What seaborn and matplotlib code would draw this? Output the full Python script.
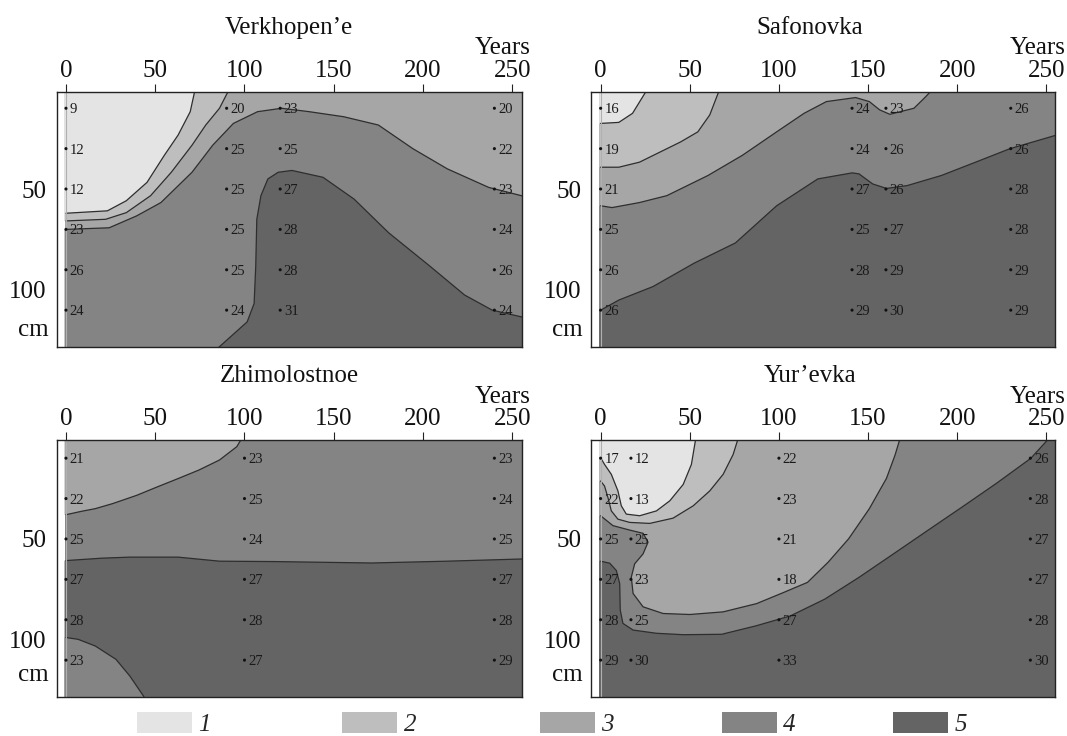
import matplotlib
matplotlib.use("Agg")
import matplotlib.pyplot as plt
import seaborn as sns
import pandas as pd
from matplotlib.patches import Patch

# ---------------- data ----------------
depths = [10, 30, 50, 70, 90, 110]

verk_years = [0, 90, 120, 240]
verk_col_0 = [9, 12, 12, 23, 26, 24]
verk_col_90 = [20, 25, 25, 25, 25, 24]
verk_col_120 = [23, 25, 27, 28, 28, 31]
verk_col_240 = [20, 22, 23, 24, 26, 24]

safo_years = [0, 141, 160, 230]
safo_col_0 = [16, 19, 21, 25, 26, 26]
safo_col_141 = [24, 24, 27, 25, 28, 29]
safo_col_160 = [23, 26, 26, 27, 29, 30]
safo_col_230 = [26, 26, 28, 28, 29, 29]

zhim_years = [0, 100, 240]
zhim_col_0 = [21, 22, 25, 27, 28, 23]
zhim_col_100 = [23, 25, 24, 27, 28, 27]
zhim_col_240 = [23, 24, 25, 27, 28, 29]

yure_years = [0, 17, 100, 241]
yure_col_0 = [17, 22, 25, 27, 28, 29]
yure_col_17 = [12, 13, 25, 23, 25, 30]
yure_col_100 = [22, 23, 21, 18, 27, 33]
yure_col_241 = [26, 28, 27, 27, 28, 30]

class_labels = ['1', '2', '3', '4', '5']

# class boundary lines (years, cm)
verk_b12_x = [72.5, 69.6, 62.8, 55.1, 45.4, 33.8, 23.2, 0]
verk_b12_y = [0, 11.7, 23.3, 33.3, 46.7, 55.8, 60.8, 62]
verk_b23_x = [91.8, 86, 78.3, 70.6, 59, 47.4, 33.8, 22.2, 0]
verk_b23_y = [0, 10, 18.3, 28.3, 41.7, 53.3, 61.7, 65, 65.8]
verk_b34_x = [0, 24.2, 39.6, 53.2, 70.6, 82.2, 93.8, 107.3, 120.8, 136.3, 155.6, 175, 194.3, 213.6, 236.8, 256]
verk_b34_y = [70, 69.2, 63.3, 56.7, 41.7, 28.3, 17.5, 11.7, 10, 11.7, 14.2, 18.3, 30, 40, 49.2, 53.5]
verk_b45_x = [82.5, 85.1, 101.5, 105.4, 106.3, 106.9, 109.2, 113.1, 118.9, 126.6, 144, 161.4, 180.8, 204, 223.3, 238.8, 256]
verk_b45_y = [131, 128.8, 115.8, 106.7, 88.3, 65, 53.3, 45, 41.7, 40.8, 44.2, 55, 71.7, 88.3, 102.5, 110, 113.5]

safo_b12_x = [26.6, 17.9, 10.2, 0]
safo_b12_y = [0, 12.5, 17, 17.5]
safo_b23_x = [67, 61.2, 54.5, 44.8, 33.3, 21.8, 10.2, 0]
safo_b23_y = [0, 13.3, 21.7, 26.7, 31.7, 36.7, 39.2, 39.2]
safo_b34_x = [0, 6.4, 21.8, 37.1, 60.2, 79.5, 98.7, 114.1, 126.6, 143, 150.7, 156.5, 162.2, 168, 175.7, 181.5, 186.9]
safo_b34_y = [58.3, 59.2, 56.7, 53.3, 43.3, 33.3, 21.7, 12.5, 6.7, 4.7, 6.7, 10.8, 13, 11.7, 10, 5, 0]
safo_b45_x = [0, 10.2, 29.4, 52.5, 75.6, 98.7, 121.8, 141.1, 144.9, 152.6, 160.3, 171.9, 191.1, 210.3, 229.6, 256]
safo_b45_y = [110, 105, 98.3, 86.7, 76.7, 58.3, 45, 42, 42.5, 47.5, 49.7, 48.3, 43.3, 36.7, 30, 23.2]

zhim_b34_x = [98.6, 95.7, 86, 74.4, 62.8, 51.2, 39.6, 26.1, 16.4, 8.7, 0]
zhim_b34_y = [0, 4.3, 10.9, 15.9, 20.1, 24.2, 28.4, 32.5, 35, 36.3, 38]
zhim_b45_x = [0, 20.3, 35.8, 62.8, 86, 117, 171.1, 213.6, 256]
zhim_b45_y = [60.7, 59.5, 59, 59, 61, 61.2, 61.9, 61, 59.9]
zhim_b54_x = [0, 6.8, 16.4, 28, 35.8, 43.5, 45]
zhim_b54_y = [98.8, 99.7, 103, 109.6, 117.9, 127.9, 131]

yure_b12_x = [53.4, 50.9, 46.3, 38.8, 31.3, 21.9, 14.4, 11.6, 9.7, 6, 2.2, 0]
yure_b12_y = [0, 13.1, 23, 31.1, 36.1, 38.5, 37.7, 33.6, 26.2, 18, 13.1, 9.8]
yure_b23_x = [0, 2.2, 4.1, 6, 9.7, 16.3, 27.5, 40.6, 51.9, 61.2, 68.7, 74.3, 77.2]
yure_b23_y = [21.3, 23.8, 29.5, 36.1, 40.2, 41.8, 42.3, 39.7, 33.6, 26.2, 18, 8.2, 0]
yure_b34_x = [0, 6.9, 16.3, 23.8, 26.6, 23.8, 19.1, 17.2, 18.2, 23.8, 35, 50, 68.7, 87.5,
              102.6, 116, 127.6, 139.1, 150.7, 160.3, 165.1, 168]
yure_b34_y = [38.5, 43.4, 45.6, 47.2, 51.6, 57.4, 62.3, 68.9, 77, 83.6, 86.9, 87.4, 86.1, 82,
              76.5, 71.5, 61.5, 49.9, 35, 20, 8.5, 0]
yure_b45_x = [0, 5.1, 8.8, 10.7, 11, 12.5, 18.2, 31.3, 46.3, 67.9, 87.2, 106.4, 125.7, 144.9,
              164.2, 183.4, 202.7, 221.9, 241.2, 249.8, 251.5]
yure_b45_y = [61, 62, 65.6, 72.1, 85.2, 91.8, 95.1, 96.7, 97.4, 97.2, 93, 88.1, 79.8, 69,
              57.4, 45.8, 34.2, 22.5, 10.1, 1.8, 0]

# ---------------- style ----------------
sns.set_theme(style="white")
plt.rcParams['font.family'] = ['Liberation Serif', 'DejaVu Serif']

class_colors = ['#e4e4e4', '#bebebe', '#a5a6a5', '#848484', '#646464']
line_color = '#2e2e2e'
FILL_L, FILL_T, FILL_B, FILL_R = -0.8, -4, 136, 262

fig = plt.figure(figsize=(10.67, 7.36), dpi=100)


def closure(kind, xs, ys):
    if kind == 'below':
        return [(FILL_R, FILL_B), (FILL_L, FILL_B), (FILL_L, ys[0])]
    if kind == 'bottomright':
        return [(FILL_R, ys[-1]), (FILL_R, FILL_B), (xs[0], FILL_B)]
    if kind == 'bottomleft':
        return [(xs[-1], FILL_B), (FILL_L, FILL_B), (FILL_L, ys[0])]
    # topleft
    if xs[0] <= 0.01:
        return [(xs[-1], FILL_T), (FILL_L, FILL_T), (FILL_L, ys[0])]
    return [(FILL_L, ys[-1]), (FILL_L, FILL_T), (xs[0], FILL_T)]


def draw_panel(rect, title, title_dx, years, cols, base, regions, xlim, ylim, cm_y):
    ax = fig.add_axes(rect)
    ax.set_facecolor('white')
    # base fill
    ax.fill([FILL_L, FILL_R, FILL_R, FILL_L], [FILL_T, FILL_T, FILL_B, FILL_B],
            color=class_colors[base], lw=0, zorder=1)
    for cls, kind, xs, ys in regions:
        extra = closure(kind, xs, ys)
        px = list(xs) + [p[0] for p in extra]
        py = list(ys) + [p[1] for p in extra]
        ax.fill(px, py, color=class_colors[cls], lw=0, zorder=1.2)
    for cls, kind, xs, ys in regions:
        ax.plot(xs, ys, color=line_color, lw=0.9, zorder=2, solid_joinstyle='round')
    ax.axvline(0, color='#b0b0b0', lw=0.8, zorder=2.2)

    # sample points
    rows = []
    for yr, col in zip(years, cols):
        for d, v in zip(depths, col):
            rows.append({'year': yr, 'depth': d, 'value': v})
    df = pd.DataFrame(rows)
    sns.scatterplot(data=df, x='year', y='depth', ax=ax, s=5, color='#111111',
                    edgecolor='none', linewidth=0, zorder=3, legend=False)
    for _, r in df.iterrows():
        ax.annotate(str(int(r['value'])), (r['year'], r['depth']), xytext=(2.6, 0),
                    textcoords='offset points', ha='left', va='center_baseline',
                    fontsize=10.5, color='#1a1a1a', zorder=4)

    ax.set_xlim(*xlim)
    ax.set_ylim(*ylim)
    ax.set_xlabel('')
    ax.set_ylabel('')
    ax.xaxis.tick_top()
    ax.set_xticks([0, 50, 100, 150, 200, 250])
    ax.set_yticks([50, 100])
    ax.tick_params(axis='x', top=True, bottom=False, labeltop=True, labelbottom=False)
    ax.tick_params(axis='both', direction='out', length=6, width=0.8, color='#222222',
                   labelsize=18, pad=1.2, labelcolor='#111111')
    ax.grid(False)
    for sp in ax.spines.values():
        sp.set_visible(True)
        sp.set_color('#222222')
        sp.set_linewidth(1.0)
        sp.set_zorder(5)

    ax.annotate(title, xy=(0.5, 1), xycoords='axes fraction', xytext=(title_dx, 41.5),
                textcoords='offset points', ha='center', va='baseline', fontsize=18,
                color='#111111')
    ax.annotate('Years', xy=(250, 1), xycoords=('data', 'axes fraction'), xytext=(13.5, 26.8),
                textcoords='offset points', ha='right', va='baseline', fontsize=18,
                color='#111111')
    ax.annotate('cm', xy=(0, cm_y), xycoords=('axes fraction', 'data'), xytext=(-6, 0),
                textcoords='offset points', ha='right', va='baseline', fontsize=18,
                color='#111111')
    return ax


LX, LW = 56.7 / 1067, 465 / 1067
RX, RW = 591 / 1067, 464.5 / 1067
TY, TH = 1 - 347.3 / 736, 255.6 / 736
BY, BH = 1 - 697.3 / 736, 257.3 / 736

draw_panel([LX, TY, LW, TH], 'Verkhopen\u2019e', 0, verk_years,
           [verk_col_0, verk_col_90, verk_col_120, verk_col_240], 2,
           [(3, 'below', verk_b34_x, verk_b34_y),
            (4, 'bottomright', verk_b45_x, verk_b45_y),
            (1, 'topleft', verk_b23_x, verk_b23_y),
            (0, 'topleft', verk_b12_x, verk_b12_y)],
           (-5.2, 255.3), (128.4, 1.8), 123)

draw_panel([RX, TY, RW, TH], 'Safonovka', -9.5, safo_years,
           [safo_col_0, safo_col_141, safo_col_160, safo_col_230], 3,
           [(4, 'below', safo_b45_x, safo_b45_y),
            (2, 'topleft', safo_b34_x, safo_b34_y),
            (1, 'topleft', safo_b23_x, safo_b23_y),
            (0, 'topleft', safo_b12_x, safo_b12_y)],
           (-5.4, 255.1), (128.4, 1.8), 123)

draw_panel([LX, BY, LW, BH], 'Zhimolostnoe', 0, zhim_years,
           [zhim_col_0, zhim_col_100, zhim_col_240], 3,
           [(4, 'below', zhim_b45_x, zhim_b45_y),
            (3, 'bottomleft', zhim_b54_x, zhim_b54_y),
            (2, 'topleft', zhim_b34_x, zhim_b34_y)],
           (-5.2, 255.3), (128.4, 1.0), 120.5)

draw_panel([RX, BY, RW, BH], 'Yur\u2019evka', -9.5, yure_years,
           [yure_col_0, yure_col_17, yure_col_100, yure_col_241], 4,
           [(3, 'topleft', yure_b45_x, yure_b45_y),
            (2, 'topleft', yure_b34_x, yure_b34_y),
            (1, 'topleft', yure_b23_x, yure_b23_y),
            (0, 'topleft', yure_b12_x, yure_b12_y)],
           (-5.4, 255.1), (128.4, 1.0), 120.5)

# legend (one entry each, placed under the panels)
legend_x_px = [137.3, 342.3, 540, 721.7, 893.3]
for i, xpx in enumerate(legend_x_px):
    fig.legend(handles=[Patch(facecolor=class_colors[i], edgecolor='none', label=class_labels[i])],
               loc='upper left', bbox_to_anchor=(xpx / 1067, 1 - 712 / 736),
               frameon=False, borderpad=0, borderaxespad=0, handlelength=2.2,
               handleheight=0.92, handletextpad=0.25,
               prop=dict(family='Liberation Serif', style='italic', size=18))

fig.savefig('out.png', dpi=100)
